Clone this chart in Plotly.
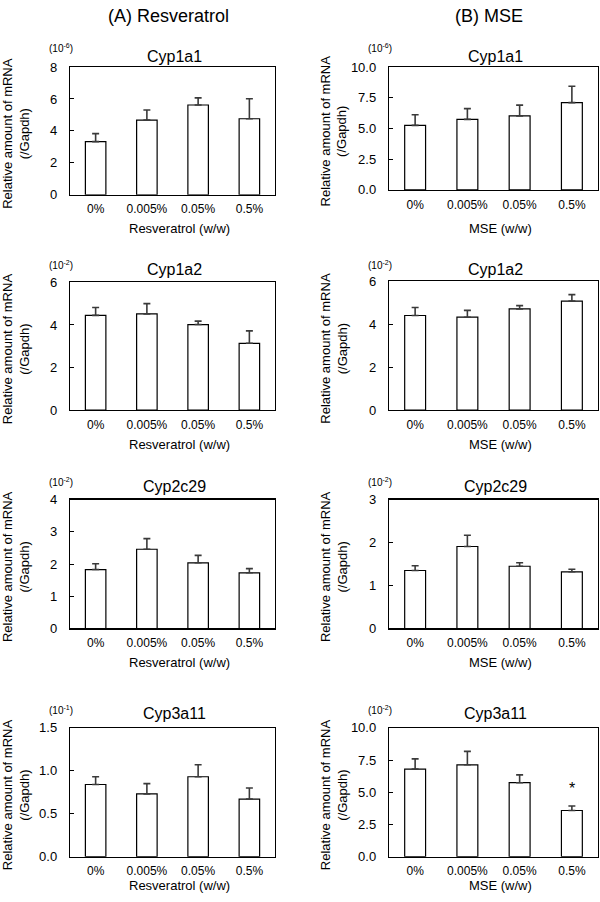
import plotly.graph_objects as go

W, H = 600, 902

categories = ["0%", "0.005%", "0.05%", "0.5%"]

res_cyp1a1 = [3.33, 4.68, 5.62, 4.76]
res_cyp1a1_sd = [0.50, 0.63, 0.45, 1.25]
mse_cyp1a1 = [5.25, 5.74, 6.02, 7.10]
mse_cyp1a1_sd = [0.87, 0.87, 0.88, 1.33]

res_cyp1a2 = [4.45, 4.52, 4.02, 3.14]
res_cyp1a2_sd = [0.37, 0.48, 0.16, 0.58]
mse_cyp1a2 = [4.41, 4.33, 4.72, 5.08]
mse_cyp1a2_sd = [0.37, 0.32, 0.15, 0.30]

res_cyp2c29 = [1.83, 2.46, 2.04, 1.73]
res_cyp2c29_sd = [0.18, 0.33, 0.23, 0.13]
mse_cyp2c29 = [1.35, 1.91, 1.45, 1.32]
mse_cyp2c29_sd = [0.11, 0.26, 0.08, 0.06]

res_cyp3a11 = [0.84, 0.73, 0.93, 0.67]
res_cyp3a11_sd = [0.09, 0.12, 0.14, 0.13]
mse_cyp3a11 = [6.80, 7.13, 5.74, 3.58]
mse_cyp3a11_sd = [0.79, 1.04, 0.61, 0.35]

gene_names = ["Cyp1a1", "Cyp1a2", "Cyp2c29", "Cyp3a11"]
res_exponents = ["-6", "-2", "-2", "-1"]
mse_exponents = ["-6", "-2", "-2", "-2"]
res_ranges = [(8, 2, "d"), (6, 2, "d"), (4, 1, "d"), (1.5, 0.5, ".1f")]
mse_ranges = [(10, 2.5, ".1f"), (6, 2, "d"), (3, 1, "d"), (10, 2.5, ".1f")]

panels = [
    # (values, sd, col, row)
    (res_cyp1a1, res_cyp1a1_sd, 0, 0), (mse_cyp1a1, mse_cyp1a1_sd, 1, 0),
    (res_cyp1a2, res_cyp1a2_sd, 0, 1), (mse_cyp1a2, mse_cyp1a2_sd, 1, 1),
    (res_cyp2c29, res_cyp2c29_sd, 0, 2), (mse_cyp2c29, mse_cyp2c29_sd, 1, 2),
    (res_cyp3a11, res_cyp3a11_sd, 0, 3), (mse_cyp3a11, mse_cyp3a11_sd, 1, 3),
]

FONT = "Liberation Sans, Arial, sans-serif"

# pixel layout (reference picture coordinates)
col_x = [(70, 275), (389, 598)]
row_y = {
    (0, 0): (61, 191), (1, 0): (61, 186),
    (0, 1): (280, 410), (1, 1): (279, 410),
    (0, 2): (501, 632), (1, 2): (501, 632),
    (0, 3): (733, 864), (1, 3): (733, 864),
}
xtitle_y = {0: 225, 1: 445, 2: 667, 3: 893}
title_y = {0: 50, 1: 267, 2: 488, 3: 718}
mult_y = {0: 42, 1: 262, 2: 483, 3: 715}


def px(x):
    return x / W


def py(y):
    return 1 - y / H


fig = go.Figure()
annotations = []

for i, (vals, sd, col, row) in enumerate(panels):
    n = i + 1
    xa = "x" if n == 1 else f"x{n}"
    ya = "y" if n == 1 else f"y{n}"
    fig.add_trace(go.Bar(
        x=categories, y=vals, width=0.4,
        marker=dict(color="white", line=dict(color="black", width=1.2)),
        error_y=dict(type="data", symmetric=False, array=sd,
                     arrayminus=[0] * len(sd), width=3.5, thickness=1.6,
                     color="#3a3a3a"),
        xaxis=xa, yaxis=ya, showlegend=False, hoverinfo="skip",
    ))
    x0, x1 = col_x[col]
    y0, y1 = row_y[(col, row)]
    rmax, dt, fmt = (res_ranges if col == 0 else mse_ranges)[row]
    xkey = "xaxis" if n == 1 else f"xaxis{n}"
    ykey = "yaxis" if n == 1 else f"yaxis{n}"
    fig.update_layout({
        xkey: dict(domain=[px(x0), px(x1)], anchor=ya, type="category",
                   range=[-0.5, 3.5], showline=True, mirror=True,
                   linecolor="black", linewidth=1.2, ticks="",
                   showgrid=False, zeroline=False,
                   tickfont=dict(family=FONT, size=12, color="black"),
                   ticklabelstandoff=3),
        ykey: dict(domain=[py(y1), py(y0)], anchor=xa, range=[0, rmax],
                   dtick=dt, tick0=0, tickformat=fmt, showline=True,
                   mirror=True, linecolor="black", linewidth=1.2,
                   ticks="inside", ticklen=4, tickcolor="black",
                   showgrid=False, zeroline=False,
                   tickfont=dict(family=FONT, size=13, color="black"),
                   ticklabelstandoff=9),
    })
    cx = (x0 + x1) / 2
    annotations.append(dict(x=px(cx + 2), y=py(title_y[row]), xref="paper",
                            yref="paper", text=gene_names[row], showarrow=False,
                            font=dict(family=FONT, size=16, color="black"),
                            xanchor="center", yanchor="middle"))
    exps = res_exponents if col == 0 else mse_exponents
    annotations.append(dict(x=px(x0 - 9), y=py(mult_y[row]), xref="paper",
                            yref="paper",
                            text=f"(10<sup>{exps[row]}</sup>)", showarrow=False,
                            font=dict(family=FONT, size=10, color="black"),
                            xanchor="center", yanchor="middle"))
    xt = "Resveratrol (w/w)" if col == 0 else "MSE (w/w)"
    annotations.append(dict(x=px(cx + 7), y=py(xtitle_y[row]), xref="paper",
                            yref="paper", text=xt, showarrow=False,
                            font=dict(family=FONT, size=13, color="black"),
                            xanchor="center", yanchor="middle", borderpad=0))
    ytx = 16 if col == 0 else 334
    annotations.append(dict(x=px(ytx), y=py((y0 + y1) / 2 + 3), xref="paper",
                            yref="paper",
                            text="Relative amount of mRNA<br>(/Gapdh)",
                            showarrow=False, textangle=-90,
                            font=dict(family=FONT, size=13, color="black"),
                            xanchor="center", yanchor="middle"))

# significance marker on MSE Cyp3a11 0.5%
annotations.append(dict(x=categories[3], y=mse_cyp3a11[3] + mse_cyp3a11_sd[3] + 1.35,
                        xref="x8", yref="y8", text="*", showarrow=False,
                        font=dict(family=FONT, size=16, color="black"),
                        xanchor="center", yanchor="middle"))

# column headers
annotations.append(dict(x=px(168), y=py(9), xref="paper", yref="paper",
                        text="(A) Resveratrol", showarrow=False,
                        font=dict(family=FONT, size=18, color="black"),
                        xanchor="center", yanchor="middle"))
annotations.append(dict(x=px(489), y=py(9), xref="paper", yref="paper",
                        text="(B) MSE", showarrow=False,
                        font=dict(family=FONT, size=18, color="black"),
                        xanchor="center", yanchor="middle"))

fig.update_layout(
    width=W, height=H, autosize=False,
    margin=dict(l=0, r=0, t=0, b=0),
    paper_bgcolor="white", plot_bgcolor="white",
    annotations=annotations,
    font=dict(family=FONT, color="black"),
    bargap=0.6,
    hovermode=False,
)

fig.write_html(
    "out.html",
    config={"displayModeBar": False, "staticPlot": True},
    post_script=(
        "var d=document.documentElement.style,b=document.body.style;"
        "b.margin='0';b.padding='0';b.overflow='hidden';d.overflow='hidden';"
    ),
)
